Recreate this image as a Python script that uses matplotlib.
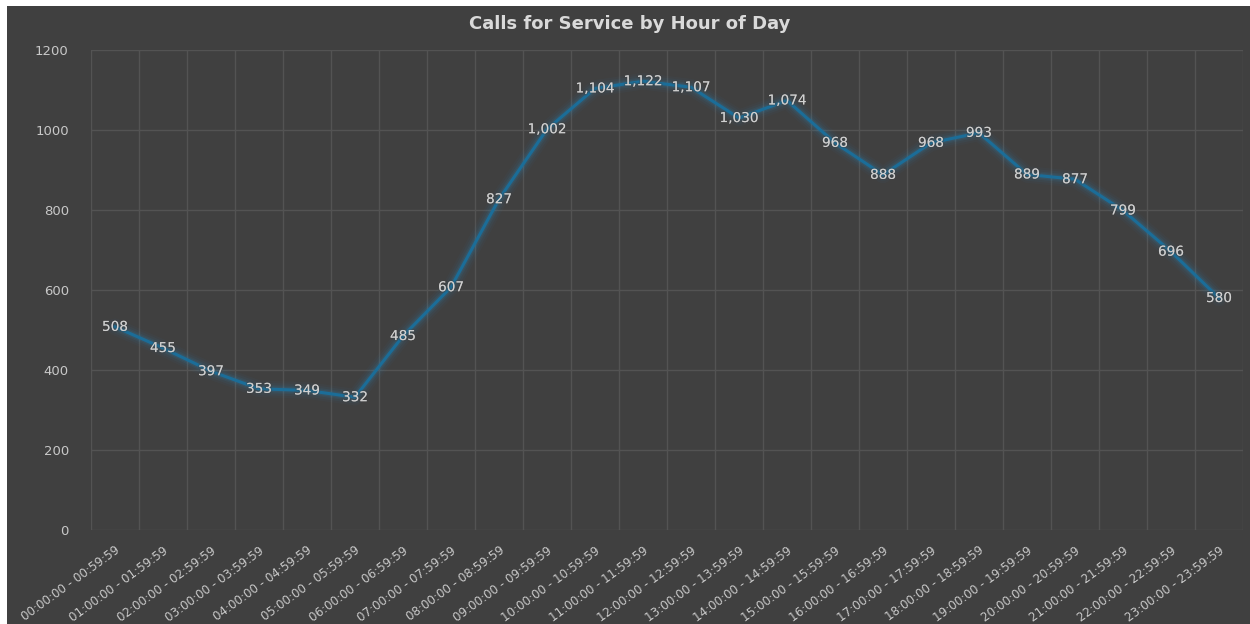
import numpy as np
import matplotlib.pyplot as plt
import matplotlib.patheffects as pe
from matplotlib.patches import Rectangle

hours = ["%02d:00:00 - %02d:59:59" % (h, h) for h in range(24)]
calls = [508, 455, 397, 353, 349, 332, 485, 607, 827, 1002, 1104, 1122,
         1107, 1030, 1074, 968, 888, 968, 993, 889, 877, 799, 696, 580]

bg = "#404040"
grid = "#535353"
txt = "#c8c8c8"
blue = "#1b6d98"

fig = plt.figure(figsize=(12.5, 6.24), dpi=100, facecolor="white")
fig.patches.append(Rectangle((7 / 1250, 0), 1, 1 - 6 / 624, transform=fig.transFigure,
                             facecolor=bg, edgecolor="none", zorder=-10))
ax = fig.add_axes([0.0728, 0.1506, 0.9216, 0.7692])
ax.set_facecolor(bg)

x = np.arange(len(calls))
# soft glow under the line
for lw, a in [(12, 0.04), (9, 0.06), (6, 0.09), (4, 0.12)]:
    ax.plot(x, calls, color="#2a8cc4", lw=lw, alpha=a, solid_capstyle="round", zorder=2)
ax.plot(x, calls, color=blue, lw=2.2, zorder=3)

for xi, v in zip(x, calls):
    ax.text(xi, v, f"{v:,}", ha="center", va="center", fontsize=9.8, color="#d0d0d0", zorder=4,
            path_effects=[pe.withStroke(linewidth=2, foreground=(0.25, 0.25, 0.25, 0.3))])

ax.set_xlim(-0.5, 23.5)
ax.set_ylim(0, 1200)
ax.set_yticks(range(0, 1201, 200))
ax.set_xticks(x)
ax.set_xticklabels(hours, rotation=36, ha="right", va="top", rotation_mode="anchor",
                   fontsize=8.6, color=txt)
ax.set_xticks(np.arange(-0.5, 24, 1), minor=True)
ax.tick_params(axis="y", colors=txt, labelsize=9.5, length=0, pad=16)
ax.tick_params(axis="x", which="both", length=0, pad=10)
ax.grid(axis="x", which="minor", color=grid, lw=1)
ax.grid(axis="y", which="major", color=grid, lw=1)
ax.set_axisbelow(True)
for s in ax.spines.values():
    s.set_visible(False)

fig.text(0.504, 1 - 24 / 624, "Calls for Service by Hour of Day", ha="center", va="center",
         fontsize=13, fontweight="bold", color="#d9d9d9")

fig.savefig("out.png", dpi=100, facecolor=fig.get_facecolor())
